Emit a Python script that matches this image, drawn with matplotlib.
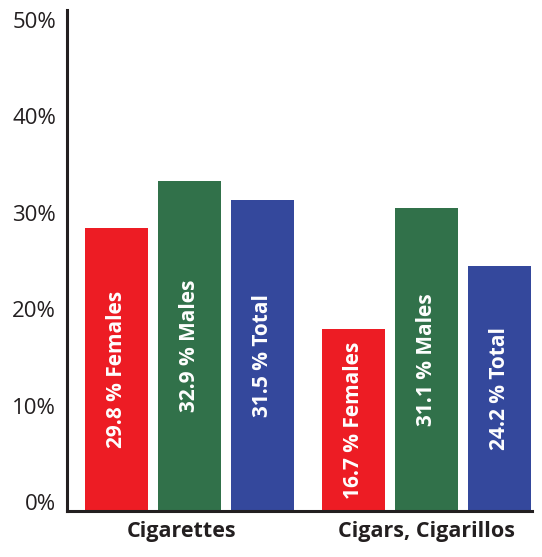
import matplotlib
matplotlib.use("Agg")
import matplotlib.pyplot as plt
import matplotlib.transforms as mtransforms
import numpy as np

# Data (bar heights, %)
categories = ["Cigarettes", "Cigars, Cigarillos"]
series = ["Females", "Males", "Total"]
females = [28.4, 17.9]
males = [33.3, 30.5]
total = [31.3, 24.5]
label_text = [["29.8 % Females", "32.9 % Males", "31.5 % Total"],
              ["16.7 % Females", "31.1 % Males", "24.2 % Total"]]
yticks = [0, 10, 20, 30, 40, 50]
ytick_labels = ["0%", "10%", "20%", "30%", "40%", "50%"]

colors = ["#ED1C24", "#31714A", "#34489C"]
axis_color = "#231F20"

fig = plt.figure(figsize=(5.42, 5.57), dpi=100)
ax = fig.add_axes([67/542, 46/557, 465/542, 501/557])

ymin, ymax = -0.93, 51.0
group_centers = np.array([0.0, 3.23])
offsets = [-1, 0, 1]
width = 0.86
vals = [females, males, total]

for si, (v, off, c) in enumerate(zip(vals, offsets, colors)):
    v = np.array(v)
    xs = group_centers + off
    ax.bar(xs, v - ymin, bottom=ymin, width=width, color=c, edgecolor="none")
    for gi, x in enumerate(xs):
        ax.text(x, (ymin + v[gi]) / 2, label_text[gi][si], rotation=90,
                ha="center", va="center", color="white", fontsize=15,
                fontweight="bold", family="Open Sans")

ax.set_xlim(-1.675, 4.673)
ax.set_ylim(ymin, ymax)
ax.set_yticks(yticks)
ax.set_yticklabels(ytick_labels, fontsize=16, family="Open Sans", color="#231F20")
ax.tick_params(axis="y", length=0, pad=8)
ax.set_xticks(group_centers)
ax.set_xticklabels(categories, fontsize=15.5, fontweight="bold", family="Open Sans", color="#231F20")
ax.tick_params(axis="x", length=0, pad=7)
shift = mtransforms.ScaledTranslation(-8/100, 0, fig.dpi_scale_trans)
lbl0 = ax.get_xticklabels()[0]
lbl0.set_transform(lbl0.get_transform() + shift)

for s in ["top", "right"]:
    ax.spines[s].set_visible(False)
for s in ["left", "bottom"]:
    ax.spines[s].set_color(axis_color)
    ax.spines[s].set_linewidth(2.2)

fig.savefig("out.png", dpi=100)
